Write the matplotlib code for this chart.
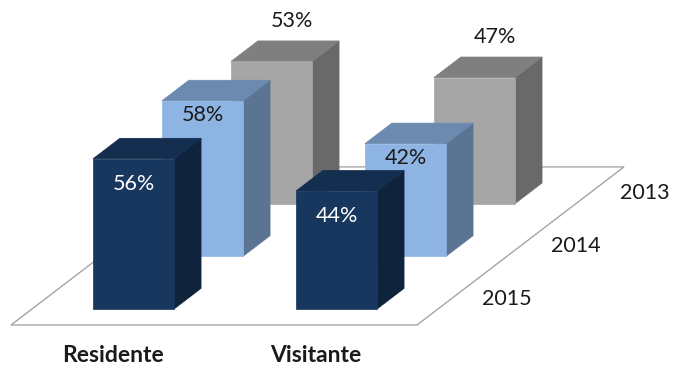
import matplotlib.pyplot as plt
from matplotlib.patches import Polygon

# shares by visitor type, one value per year (front row first)
categories = ["Residente", "Visitante"]
years = ["2015", "2014", "2013"]
residente = [56, 58, 53]
visitante = [44, 42, 47]
values = [residente, visitante]

front_colors = ["#17375E", "#8DB4E2", "#A6A6A6"]
top_colors = ["#142E50", "#6C8AAF", "#7F7F7F"]
side_colors = ["#0F233D", "#5B7494", "#696969"]
label_colors = ["white", "#1a1a1a", "#1a1a1a"]

plt.rcParams["font.family"] = ["Lato", "DejaVu Sans"]

# oblique projection: x in category units, d in depth rows, z in percent
X0, Y0 = 11, 325
UX = 203
DX, DY = 69, 52.7
UZ = 2.68
BAR_W = 0.4
BAR_D = 0.39


def proj(x, d, z):
    return (X0 + UX * x + DX * d, Y0 - DY * d - UZ * z)


fig = plt.figure(figsize=(6.73, 3.66), dpi=100)
ax = fig.add_axes([0, 0, 1, 1])
ax.set_xlim(0, 673)
ax.set_ylim(366, 0)
ax.axis("off")

# floor
n_cat, n_rows = len(categories), len(years)
floor = [proj(0, 0, 0), proj(n_cat, 0, 0), proj(n_cat, n_rows, 0), proj(0, n_rows, 0)]
ax.add_patch(Polygon(floor, closed=True, facecolor="white", edgecolor="#A6A6A6", lw=1.0))

# bars, back row first so front ones cover them
for k in reversed(range(n_rows)):
    for i in range(n_cat):
        z = values[i][k]
        x0 = i + 0.5 - BAR_W / 2
        x1 = i + 0.5 + BAR_W / 2
        d0 = k + 0.5 - BAR_D / 2
        d1 = k + 0.5 + BAR_D / 2
        front = [proj(x0, d0, 0), proj(x1, d0, 0), proj(x1, d0, z), proj(x0, d0, z)]
        side = [proj(x1, d0, 0), proj(x1, d1, 0), proj(x1, d1, z), proj(x1, d0, z)]
        top = [proj(x0, d0, z), proj(x1, d0, z), proj(x1, d1, z), proj(x0, d1, z)]
        ax.add_patch(Polygon(side, closed=True, facecolor=side_colors[k],
                             edgecolor=side_colors[k], lw=0.5))
        ax.add_patch(Polygon(top, closed=True, facecolor=top_colors[k],
                             edgecolor=top_colors[k], lw=0.5))
        ax.add_patch(Polygon(front, closed=True, facecolor=front_colors[k],
                             edgecolor=front_colors[k], lw=0.5))

        cx, ty = proj(i + 0.5, d0, z)
        if k == 0:
            lx, ly = cx, ty + 25
        elif k == 1:
            lx, ly = cx, ty + 14
        else:
            tx, tyy = proj(i + 0.5, k + 0.5, z)
            lx, ly = tx + 7, tyy - 30
        ax.text(lx, ly, f"{z}%", ha="center", va="center", fontsize=15.5,
                color=label_colors[k])

# category names along the front edge
for i, name in enumerate(categories):
    px, py = proj(i + 0.5, 0, 0)
    ax.text(px, py + 31, name, ha="center", va="center", fontsize=16.5,
            fontweight="bold", color="#1a1a1a")

# year names along the right edge
for k, yr in enumerate(years):
    px, py = proj(n_cat, k + 0.5, 0)
    ax.text(px + 55, py, yr, ha="center", va="center", fontsize=15.5, color="#1a1a1a")

fig.savefig("out.png", dpi=100)
